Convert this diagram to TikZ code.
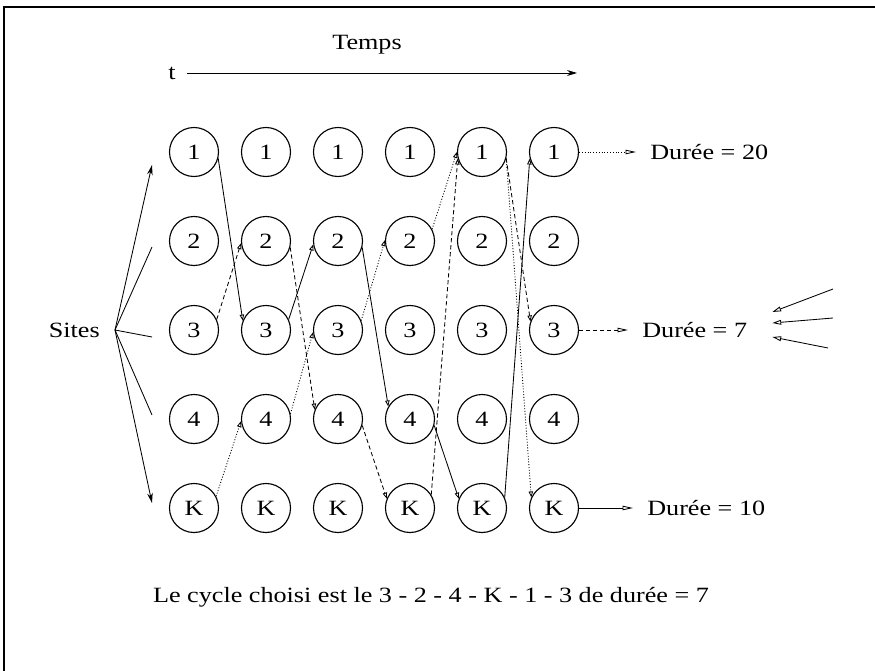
\documentclass[tikz,border=0pt]{standalone}
\usepackage{fontspec}
\setmainfont{Liberation Serif}[FakeStretch=1.2]
\usetikzlibrary{arrows.meta, positioning, calc}
\newcommand{\bigtxt}{\fontsize{15.5}{18}\selectfont}

\begin{document}
\begin{tikzpicture}[x=0.025cm, y=-0.025cm,
    site/.style={circle, draw, line width=0.8pt, minimum size=1.225cm, inner sep=0pt, font=\bigtxt},
    lbl/.style={font=\bigtxt, inner sep=0pt},
    link/.style={line width=0.6pt, -{Triangle[open, length=1.5mm, width=1.1mm]}},
    dashlink/.style={link, dash pattern=on 3pt off 2pt},
    dotlink/.style={link, dash pattern=on 0.7pt off 1.3pt},
    outlink/.style={line width=0.6pt, shorten >=0.35cm, -{Triangle[open, length=2.6mm, width=1.1mm]}},
    fanline/.style={line width=0.6pt}]

  \useasboundingbox (0,0) rectangle (875,671);
  % frame
  \draw[line width=0.8pt] (4,671) -- (4,7) -- (875,7);

  % time axis
  \node[lbl] (temps) at (367,45) {Temps};
  \node[lbl] (t) at (172,73) {t};
  \coordinate (tend) at (577,73);
  \draw[line width=0.7pt, shorten <=0.28cm, -{Stealth[length=2.5mm, width=1.5mm]}] (t.east) -- (tend);

  % sites (column = time step, row = site)
  \foreach \c in {1,...,6}
    \foreach \r/\lab in {1/1, 2/2, 3/3, 4/4, 5/K}
      \node[site] (c\c-\r) at ({194+72*(\c-1)}, {152+89*(\r-1)}) {\lab};

  % Sites fan
  \node[lbl, anchor=east] (sites) at (100,330) {Sites};
  \coordinate (fan) at (115,330);
  \foreach \i/\y in {1/165, 2/247, 3/337, 4/415, 5/503}
    \coordinate (f\i) at (152,\y);
  \draw[fanline, -{Stealth[length=2.5mm, width=1.4mm]}] (fan) -- (f1);
  \draw[fanline, -{Stealth[length=2.5mm, width=1.4mm]}] (fan) -- (f5);
  \draw[fanline] (fan) -- (f2) (fan) -- (f3) (fan) -- (f4);

  % cycle 1 - 3 - 2 - 4 - K - 1
  \draw[link] (c1-1.-15) -- (c2-3.158);
  \draw[link] (c2-3.25) -- (c3-2.188);
  \draw[link] (c3-2.-15) -- (c4-4.150);
  \draw[link] (c4-4.-15) -- (c5-5.158);
  \draw[link] (c5-5.25) -- (c6-1.195);

  % cycle 3 - 2 - 4 - K - 1 - 3
  \draw[dashlink] (c1-3.25) -- (c2-2.185);
  \draw[dashlink] (c2-2.-15) -- (c3-4.158);
  \draw[dashlink] (c3-4.-15) -- (c4-5.158);
  \draw[dashlink] (c4-5.32) -- (c5-1.195);
  \draw[dashlink] (c5-1.-15) -- (c6-3.160);

  % cycle K - 4 - 3 - 2 - 1 - K
  \draw[dotlink] (c1-5.28) -- (c2-4.185);
  \draw[dotlink] (c2-4.12) -- (c3-3.185);
  \draw[dotlink] (c3-3.22) -- (c4-2.178);
  \draw[dotlink] (c4-2.28) -- (c5-1.180);
  \draw[dotlink] (c5-1.-15) -- (c6-5.155);

  % durations
  \node[lbl, anchor=west] (d20) at (650,152) {Durée = 20};
  \node[lbl, anchor=west] (d7) at (642,330) {Durée = 7};
  \node[lbl, anchor=west] (d10) at (647,508) {Durée = 10};
  \draw[outlink, dash pattern=on 0.7pt off 1.3pt] (c6-1) -- (d20);
  \draw[outlink, dash pattern=on 3pt off 2pt] (c6-3) -- (d7);
  \draw[outlink] (c6-5) -- (d10);

  \coordinate (in1) at (833,289);
  \coordinate (in2) at (833,318);
  \coordinate (in3) at (828,348);
  \foreach \i/\dy in {1/-18, 2/-7, 3/7}
    \draw[line width=0.6pt, -{Triangle[open, length=2.2mm, width=1.2mm]}] (in\i) -- ($(d7.east)+(25,\dy)$);

  % result
  \node[lbl] (cycle) at (431,597) {Le cycle choisi est le 3 - 2 - 4 - K - 1 - 3 de durée = 7};
\end{tikzpicture}
\end{document}
